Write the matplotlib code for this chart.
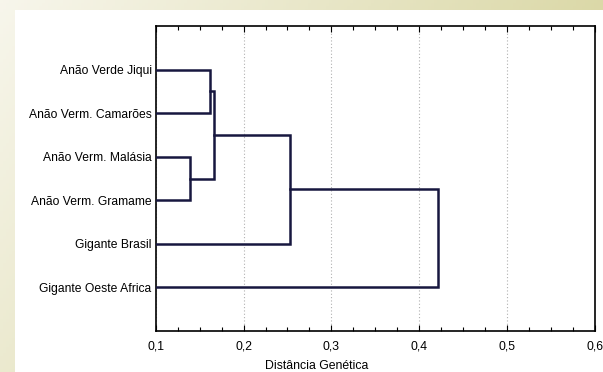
import matplotlib

matplotlib.use("Agg")
import matplotlib.pyplot as plt
import numpy as np
from matplotlib.patches import Rectangle
from matplotlib.ticker import FuncFormatter, MultipleLocator

# leaves, top to bottom
leaves = [
    "Anão Verde Jiqui",
    "Anão Verm. Camarões",
    "Anão Verm. Malásia",
    "Anão Verm. Gramame",
    "Gigante Brasil",
    "Gigante Oeste Africa",
]
# merges: (left node, right node, distance); nodes >= len(leaves) are earlier merges
merge_left = [0, 2, 6, 8, 9]
merge_right = [1, 3, 7, 4, 5]
merge_dist = [0.1618, 0.1394, 0.1667, 0.2529, 0.4210]

line_color = "#17173f"

plt.rcParams["font.family"] = ["Liberation Sans", "DejaVu Sans"]

W, H = 603, 372
fig = plt.figure(figsize=(W / 100, H / 100), dpi=100)

# slide-like beige gradient behind a white panel
bg = fig.add_axes([0, 0, 1, 1], zorder=-2)
gx, gy = np.meshgrid(np.linspace(0, 1, 200), np.linspace(0, 1, 120))
t = (0.7 * gx + 0.3 * gy)[..., None]
c0 = np.array([0.97, 0.965, 0.925])
c1 = c0 + np.array([-0.157, -0.164, -0.379])
bg.imshow(c0 + (c1 - c0) * t, aspect="auto", extent=(0, 1, 1, 0))
bg.add_patch(Rectangle((15 / W, 10 / H), 1, 1, facecolor="white", edgecolor="none"))
bg.set_xlim(0, 1)
bg.set_ylim(1, 0)
bg.axis("off")

ax = fig.add_axes([155.7 / W, 1 - 331 / H, (595 - 155.7) / W, (331 - 26) / H])
ax.set_facecolor("white")

# node positions: y = leaf row, x = distance
ypos = {i: i + 1 for i in range(len(leaves))}
xpos = {i: 0.0 for i in range(len(leaves))}
n = len(leaves)
for k, (a, b, d) in enumerate(zip(merge_left, merge_right, merge_dist)):
    ax.plot([xpos[a], d, d, xpos[b]], [ypos[a], ypos[a], ypos[b], ypos[b]],
            color=line_color, lw=1.8, solid_joinstyle="miter", zorder=3)
    ypos[n + k] = (ypos[a] + ypos[b]) / 2
    xpos[n + k] = d

ax.set_xlim(0.1, 0.6)
ax.set_ylim(7, 0)
ax.set_yticks(range(1, n + 1))
ax.set_yticklabels(leaves, fontsize=8.7)
ax.tick_params(axis="y", length=0, pad=3)

ax.xaxis.set_major_locator(MultipleLocator(0.1))
ax.xaxis.set_minor_locator(MultipleLocator(0.025))
ax.xaxis.set_major_formatter(FuncFormatter(lambda v, p: f"{v:.1f}".replace(".", ",")))
ax.tick_params(axis="x", which="both", direction="in", top=True, labelsize=8.8, pad=7)
ax.tick_params(axis="x", which="major", length=4, width=0.8)
ax.tick_params(axis="x", which="minor", length=3, width=0.8)
ax.grid(axis="x", which="major", color="#b0b0b0", linestyle=(0, (1, 2)), linewidth=0.8)
for s in ax.spines.values():
    s.set_linewidth(1.2)

ax.set_xlabel("Distância Genética", fontsize=8.8, labelpad=7)
ax.xaxis.set_label_coords(0.367, -0.095)

fig.savefig("out.png", dpi=100)
